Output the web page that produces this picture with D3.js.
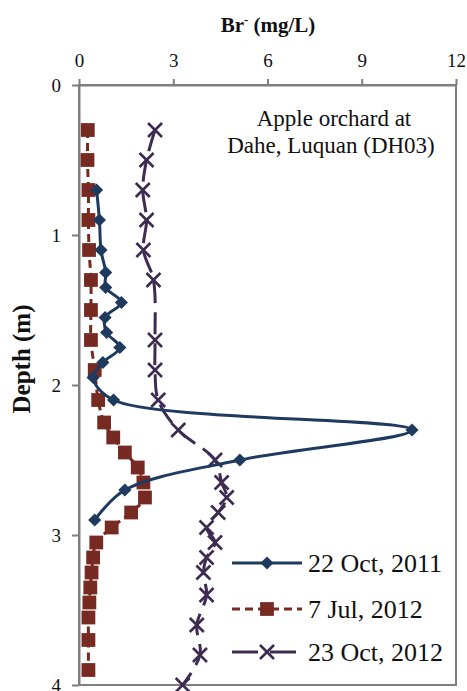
<!DOCTYPE html>
<html><head><meta charset="utf-8">
<script src="https://cdn.jsdelivr.net/npm/d3@7"></script>
<style>body{margin:0;background:#fff}svg{display:block}text{font-family:"Liberation Serif","Times New Roman",serif}</style>
</head><body>
<svg id="c" width="467" height="691"></svg>
<script>
const xTicks = [0, 3, 6, 9, 12];
const yTicks = [0, 1, 2, 3, 4];

const s1Name = "22 Oct, 2011";
const s1Depth = [0.7, 0.9, 1.1, 1.25, 1.35, 1.45, 1.55, 1.65, 1.75, 1.85, 1.95, 2.1, 2.3, 2.5, 2.7, 2.9];
const s1Br    = [0.56, 0.65, 0.7, 0.85, 0.85, 1.35, 0.83, 0.88, 1.3, 0.76, 0.45, 1.1, 10.6, 5.12, 1.46, 0.5];

const s2Name = "7 Jul, 2012";
const s2Depth = [0.3, 0.5, 0.7, 0.9, 1.1, 1.3, 1.5, 1.7, 1.9, 2.1, 2.25, 2.35, 2.45, 2.55, 2.65, 2.75, 2.85, 2.95, 3.05, 3.15, 3.25, 3.35, 3.45, 3.55, 3.7, 3.9];
const s2Br    = [0.28, 0.27, 0.3, 0.3, 0.32, 0.38, 0.38, 0.38, 0.5, 0.61, 0.8, 1.09, 1.46, 1.87, 2.05, 2.1, 1.66, 1.04, 0.55, 0.45, 0.4, 0.36, 0.33, 0.3, 0.3, 0.3];

const s3Name = "23 Oct, 2012";
const s3Depth = [0.3, 0.5, 0.7, 0.9, 1.1, 1.3, 1.7, 1.9, 2.1, 2.3, 2.5, 2.65, 2.75, 2.85, 2.95, 3.05, 3.15, 3.25, 3.4, 3.6, 3.8, 4.0];
const s3Br    = [2.42, 2.15, 2.03, 2.15, 2.05, 2.37, 2.42, 2.42, 2.52, 3.16, 4.33, 4.54, 4.7, 4.43, 4.06, 4.33, 4.06, 3.96, 4.06, 3.75, 3.85, 3.3];

const svg = d3.select("#c");
const L = 79, R = 456, T = 85, B = 685;
const x = d3.scaleLinear().domain([0, 12]).range([L, R]);
const y = d3.scaleLinear().domain([0, 4]).range([T, B]);
const grey = "#7f7f7f";

const cBlue = "#1e3a5f", cRed = "#772a22", cPurple = "#3d2b52";

// frame
svg.append("rect").attr("x", L).attr("y", T).attr("width", R - L).attr("height", B - T)
  .attr("fill", "none").attr("stroke", grey).attr("stroke-width", 2);

// top axis
const xa = svg.append("g").attr("transform", `translate(0,${T})`)
  .call(d3.axisTop(x).tickValues(xTicks).tickFormat(d3.format("d")).tickSize(6).tickSizeOuter(0).tickPadding(12));
xa.select(".domain").attr("stroke", grey).attr("stroke-width", 2);
xa.selectAll(".tick line").attr("stroke", grey).attr("stroke-width", 2);
xa.selectAll(".tick text").attr("font-size", 19).attr("fill", "#111");

// left axis
const ya = svg.append("g").attr("transform", `translate(${L},0)`)
  .call(d3.axisLeft(y).tickValues(yTicks).tickFormat(d3.format("d")).tickSize(7).tickSizeOuter(0).tickPadding(11));
ya.select(".domain").attr("stroke", grey).attr("stroke-width", 2);
ya.selectAll(".tick line").attr("stroke", grey).attr("stroke-width", 2);
ya.selectAll(".tick text").attr("font-size", 19).attr("fill", "#111");

// titles
const tt = svg.append("text").attr("x", 268).attr("y", 32).attr("text-anchor", "middle")
  .attr("font-size", 21).attr("font-weight", "bold").attr("fill", "#111");
tt.append("tspan").text("Br");
tt.append("tspan").text("-").attr("font-size", 13).attr("dy", -8);
tt.append("tspan").text(" (mg/L)").attr("dy", 8);

svg.append("text").attr("transform", "translate(30,359) rotate(-90)").attr("text-anchor", "middle")
  .attr("font-size", 25).attr("font-weight", "bold").attr("fill", "#111").text("Depth (m)");

svg.append("text").attr("x", 334).attr("y", 126).attr("text-anchor", "middle")
  .attr("font-size", 23).attr("fill", "#111").text("Apple orchard at");
svg.append("text").attr("x", 331).attr("y", 153).attr("text-anchor", "middle")
  .attr("font-size", 23).attr("fill", "#111").text("Dahe, Luquan (DH03)");

const line = d3.line().x(d => x(d[1])).y(d => y(d[0])).curve(d3.curveCatmullRom.alpha(0.5));
const zip = (a, b) => a.map((v, i) => [v, b[i]]);
const d1 = zip(s1Depth, s1Br), d2 = zip(s2Depth, s2Br), d3d = zip(s3Depth, s3Br);

const diamond = d3.symbol().type(d3.symbolDiamond2).size(110);
const square = d3.symbol().type(d3.symbolSquare).size(190);
const cross = d3.symbol().type(d3.symbolX).size(130);

// series 3 (purple)
svg.append("path").datum(d3d).attr("d", line).attr("fill", "none")
  .attr("stroke", cPurple).attr("stroke-width", 3).attr("stroke-dasharray", "22,9");
svg.append("g").selectAll("path").data(d3d).join("path")
  .attr("transform", d => `translate(${x(d[1])},${y(d[0])})`).attr("d", cross)
  .attr("fill", "none").attr("stroke", cPurple).attr("stroke-width", 2.6);

// series 2 (red)
svg.append("path").datum(d2).attr("d", line).attr("fill", "none")
  .attr("stroke", cRed).attr("stroke-width", 3).attr("stroke-dasharray", "8,5");
svg.append("g").selectAll("path").data(d2).join("path")
  .attr("transform", d => `translate(${x(d[1])},${y(d[0])})`).attr("d", square)
  .attr("fill", cRed);

// series 1 (blue)
svg.append("path").datum(d1).attr("d", line).attr("fill", "none")
  .attr("stroke", cBlue).attr("stroke-width", 3);
svg.append("g").selectAll("path").data(d1).join("path")
  .attr("transform", d => `translate(${x(d[1])},${y(d[0])})`).attr("d", diamond)
  .attr("fill", cBlue);

// legend
const leg = [
  {name: s1Name, c: cBlue, dash: null, sym: diamond, fill: true, yy: 563},
  {name: s2Name, c: cRed, dash: "8,5", sym: square, fill: true, yy: 609},
  {name: s3Name, c: cPurple, dash: "26,12", sym: cross, fill: false, yy: 652}
];
leg.forEach(l => {
  svg.append("line").attr("x1", 232).attr("x2", 302).attr("y1", l.yy).attr("y2", l.yy)
    .attr("stroke", l.c).attr("stroke-width", 3).attr("stroke-dasharray", l.dash);
  const m = svg.append("path").attr("transform", `translate(267,${l.yy})`).attr("d", l.sym);
  if (l.fill) m.attr("fill", l.c); else m.attr("fill", "none").attr("stroke", l.c).attr("stroke-width", 2.6);
  svg.append("text").attr("x", 308).attr("y", l.yy + 9).attr("font-size", 26).attr("fill", "#111").text(l.name);
});
</script>
</body></html>
